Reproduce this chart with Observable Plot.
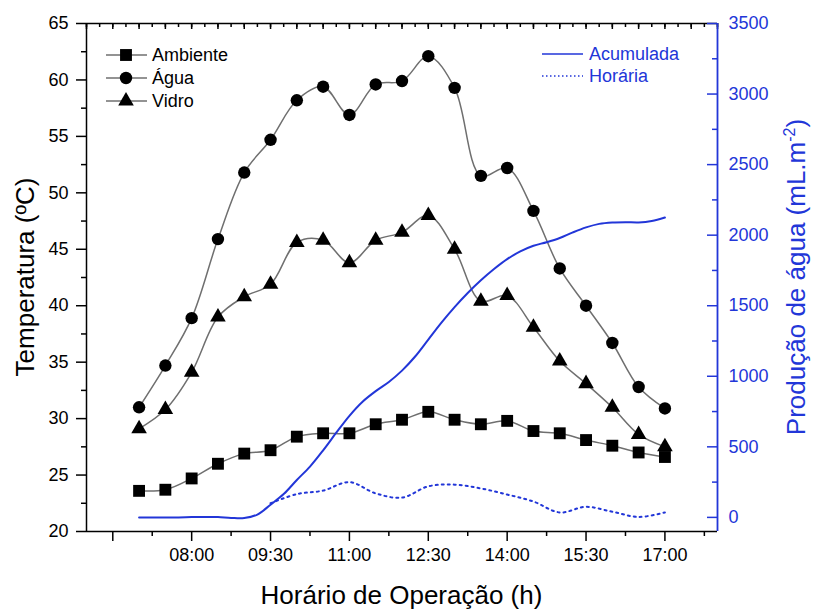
<!DOCTYPE html>
<html><head><meta charset="utf-8">
<script src="https://cdn.jsdelivr.net/npm/d3@7"></script>
<script src="https://cdn.jsdelivr.net/npm/@observablehq/plot@0.6"></script>
<style>
body{margin:0;background:#fff;}
#chart{position:relative;width:813px;height:612px;background:#fff;}
#chart svg{position:absolute;left:0;top:0;}
</style></head><body><div id="chart"></div>
<script>
// ---------- data ----------
const times = ["07:00","07:30","08:00","08:30","09:00","09:30","10:00","10:30","11:00","11:30","12:00","12:30","13:00","13:30","14:00","14:30","15:00","15:30","16:00","16:30","17:00"];
const ambiente = [23.6,23.7,24.7,26.0,26.9,27.2,28.4,28.7,28.7,29.5,29.9,30.6,29.9,29.5,29.8,28.9,28.7,28.1,27.6,27.0,26.6];
const agua     = [31.0,34.7,38.9,45.9,51.8,54.7,58.2,59.4,56.9,59.6,59.9,62.1,59.3,51.5,52.2,48.4,43.3,40.0,36.7,32.8,30.9];
const vidro    = [29.1,30.8,34.1,39.0,40.8,41.9,45.6,45.8,43.8,45.8,46.5,48.0,45.0,40.4,40.9,38.1,35.1,33.1,31.0,28.6,27.5];

const acumuladaTimes = ["07:00","07:15","07:30","07:45","08:00","08:15","08:30","08:45","09:00","09:15","09:30","09:45","10:00","10:15","10:30","10:45","11:00","11:15","11:30","11:45","12:00","12:15","12:30","12:45","13:00","13:15","13:30","13:45","14:00","14:15","14:30","14:45","15:00","15:15","15:30","15:45","16:00","16:15","16:30","16:45","17:00"];
const acumulada = [0,0,0,0,2,3,2,-4,-5,20,90,165,265,360,475,600,720,820,895,960,1040,1140,1260,1380,1490,1590,1680,1760,1830,1885,1925,1950,1980,2020,2055,2080,2090,2092,2090,2100,2125];

const horariaTimes = ["09:30","10:00","10:30","11:00","11:30","12:00","12:30","13:00","13:30","14:00","14:30","15:00","15:30","16:00","16:30","17:00"];
const horaria = [100,165,190,250,170,140,220,232,205,162,112,35,75,40,3,35];

const xTickLabels = ["08:00","09:30","11:00","12:30","14:00","15:30","17:00"];
const tempTicks = [20,25,30,35,40,45,50,55,60,65];
const waterTicks = [0,500,1000,1500,2000,2500,3000,3500];

// ---------- helpers ----------
const toMin = s => { const [h,m] = s.split(":").map(Number); return h*60+m; };

const W=813, H=612, mL=86, mR=96, mT=23, mB=81;
const PW = W-mL-mR, PH = H-mT-mB;
const xDomain=[360,1080];
const gray="#6f6f6f", blue="#2236d8";
const font="Liberation Sans, Arial, Helvetica, sans-serif";

const temp = times.map((t,i)=>({t:toMin(t), ambiente:ambiente[i], agua:agua[i], vidro:vidro[i]}));
const acc = acumuladaTimes.map((t,i)=>({t:toMin(t), v:acumulada[i]}));
const hor = horariaTimes.map((t,i)=>({t:toMin(t), v:horaria[i]}));

const labelMins = xTickLabels.map(toMin);
const majorX = [labelMins[0]-90, ...labelMins];
const minorX = majorX.map(d=>d+45);
const top15 = d3.range(360, 1081, 15);
const top30 = d3.range(360, 1081, 30);
const tempMinor = tempTicks.slice(0,-1).map(d=>d+2.5);
const waterMinor = waterTicks.slice(0,-1).map(d=>d+250);

// ---------- temperature plot ----------
const p1 = Plot.plot({
  width:W, height:H, marginLeft:mL, marginRight:mR, marginTop:mT, marginBottom:mB,
  style:{fontFamily:font, fontSize:"18px", background:"transparent", color:"#000", overflow:"visible"},
  x:{domain:xDomain},
  y:{domain:[20,65]},
  marks:[
    Plot.axisX(majorX, {anchor:"bottom", tickSize:10, tickPadding:7, strokeWidth:1.5, label:null,
      tickFormat:d=> labelMins.includes(d) ? xTickLabels[labelMins.indexOf(d)] : "", fontSize:18}),
    Plot.axisX(minorX, {anchor:"bottom", tickSize:5, strokeWidth:1.5, label:null, tickFormat:()=>""}),
    Plot.tickX(top15, {x:d=>d, insetBottom:PH-4, stroke:"#000", strokeWidth:1.5}),
    Plot.tickX(top30, {x:d=>d, insetBottom:PH-6, stroke:"#000", strokeWidth:1.5}),
    Plot.axisY(tempTicks, {anchor:"left", tickSize:10, tickPadding:8, strokeWidth:1.5, label:null, fontSize:18, tickFormat:d=>String(d)}),
    Plot.axisY(tempMinor, {anchor:"left", tickSize:5, strokeWidth:1.5, label:null, tickFormat:()=>""}),
    Plot.ruleX([xDomain[0]], {stroke:"#000", strokeWidth:1.5}),
    Plot.ruleY([20], {stroke:"#000", strokeWidth:1.5}),
    Plot.ruleY([65], {stroke:"#000", strokeWidth:1.5}),
    Plot.line(temp, {x:"t", y:"ambiente", curve:"catmull-rom", stroke:gray, strokeWidth:1.5}),
    Plot.line(temp, {x:"t", y:"agua", curve:"catmull-rom", stroke:gray, strokeWidth:1.5}),
    Plot.line(temp, {x:"t", y:"vidro", curve:"catmull-rom", stroke:gray, strokeWidth:1.5}),
    Plot.dot(temp, {x:"t", y:"ambiente", symbol:"square", r:6.7, fill:"#000"}),
    Plot.dot(temp, {x:"t", y:"agua", symbol:"circle", r:6.2, fill:"#000"}),
    Plot.dot(temp, {x:"t", y:"vidro", symbol:"triangle", r:5.8, fill:"#000"})
  ]
});

// ---------- water plot (right axis) ----------
const p2 = Plot.plot({
  width:W, height:H, marginLeft:mL, marginRight:mR, marginTop:mT, marginBottom:mB,
  style:{fontFamily:font, fontSize:"18px", background:"transparent", color:blue, overflow:"visible", pointerEvents:"none"},
  x:{domain:xDomain, axis:null},
  y:{domain:[-100,3500]},
  marks:[
    Plot.axisY(waterTicks, {anchor:"right", tickSize:0, tickPadding:11, label:null, fill:blue, fontSize:18, tickFormat:d=>String(d)}),
    Plot.tickY(waterTicks, {y:d=>d, insetLeft:PW-10, stroke:blue, strokeWidth:1.5}),
    Plot.tickY(waterMinor, {y:d=>d, insetLeft:PW-5, stroke:blue, strokeWidth:1.5}),
    Plot.ruleX([xDomain[1]], {stroke:blue, strokeWidth:1.8}),
    Plot.line(hor, {x:"t", y:"v", curve:"catmull-rom", stroke:blue, strokeWidth:2, strokeDasharray:"2,4"}),
    Plot.line(acc, {x:"t", y:"v", curve:"catmull-rom", stroke:blue, strokeWidth:2})
  ]
});

const chart = document.getElementById("chart");
chart.appendChild(p1);
chart.appendChild(p2);

// ---------- titles & legends ----------
const s1 = d3.select(p1), s2 = d3.select(p2);
s1.append("text").attr("x", mL+PW/2).attr("y", 604).attr("text-anchor","middle")
  .attr("font-family",font).attr("font-size",26).attr("fill","#000").text("Horário de Operação (h)");
s1.append("text").attr("transform","translate(34,277) rotate(-90)").attr("text-anchor","middle")
  .attr("font-family",font).attr("font-size",26).attr("fill","#000").text("Temperatura (ºC)");
const rt = s2.append("text").attr("transform","translate(805,277) rotate(-90)").attr("text-anchor","middle")
  .attr("font-family",font).attr("font-size",26).attr("fill",blue);
rt.append("tspan").text("Produção de água (mL.m");
rt.append("tspan").attr("dy",-10).attr("font-size",16).text("-2");
rt.append("tspan").attr("dy",10).text(")");

const legL = [["Ambiente", d3.symbolSquare, 6.7],["Água", d3.symbolCircle, 6.2],["Vidro", d3.symbolTriangle, 5.8]];
legL.forEach(([name, sym, r], i) => {
  const y = 55 + i*23;
  const g = s1.append("g");
  g.append("line").attr("x1",106).attr("x2",147).attr("y1",y).attr("y2",y).attr("stroke",gray).attr("stroke-width",1.5);
  g.append("path").attr("transform",`translate(126,${y})`).attr("d", d3.symbol(sym, Math.PI*r*r)()).attr("fill","#000");
  g.append("text").attr("x",152).attr("y",y).attr("dy","0.36em").attr("text-anchor","start")
    .attr("font-family",font).attr("font-size",18).attr("fill","#000").text(name);
});
const legR = [["Acumulada", null],["Horária","1.5,2.5"]];
legR.forEach(([name, dash], i) => {
  const y = 54 + i*22;
  const g = s2.append("g");
  const l = g.append("line").attr("x1",542).attr("x2",583).attr("y1",y).attr("y2",y).attr("stroke",blue).attr("stroke-width",1.5);
  if (dash) l.attr("stroke-dasharray",dash);
  g.append("text").attr("x",589).attr("y",y).attr("dy","0.36em").attr("text-anchor","start")
    .attr("font-family",font).attr("font-size",18).attr("fill",blue).text(name);
});
</script></body></html>
